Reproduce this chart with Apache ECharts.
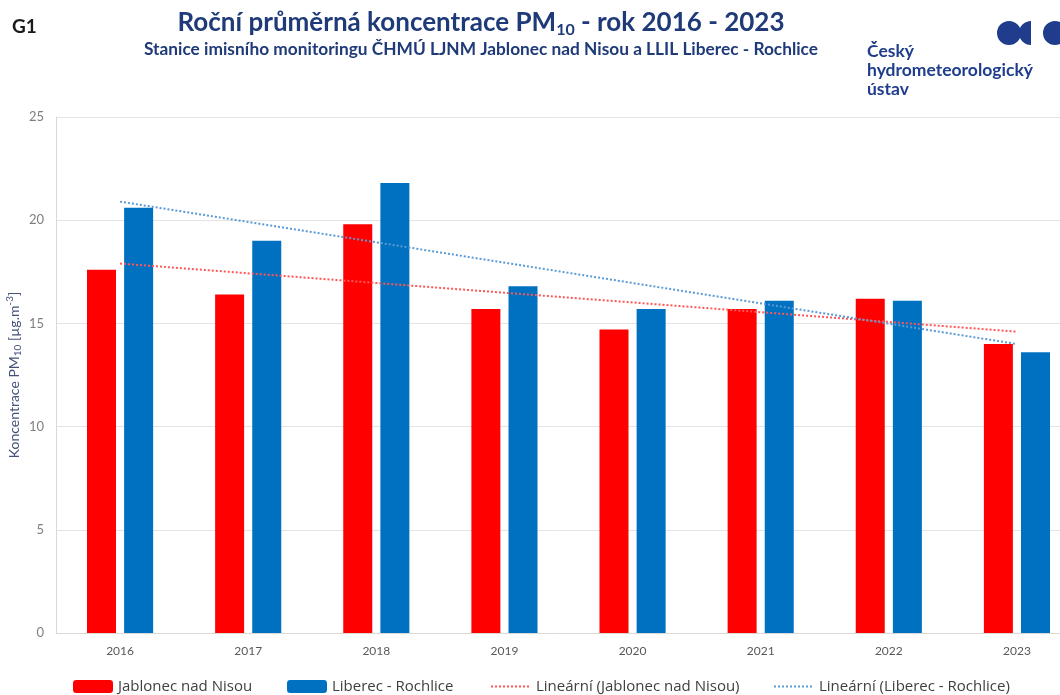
<!DOCTYPE html>
<html>
<head>
<meta charset="utf-8">
<script src="https://cdn.jsdelivr.net/npm/echarts@6/dist/echarts.min.js"></script>
<style>
  html, body { margin: 0; padding: 0; background: #fff; }
  #chart { width: 1060px; height: 695px; }
</style>
</head>
<body>
<div id="chart"></div>
<script>
// roky
const years = ['2016', '2017', '2018', '2019', '2020', '2021', '2022', '2023']
// roční průměry PM10 [µg.m-3]
const jablonec = [17.6, 16.4, 19.8, 15.7, 14.7, 15.7, 16.2, 14.0]
const liberec = [20.6, 19.0, 21.8, 16.8, 15.7, 16.1, 16.1, 13.6]
// lineární trend - hodnoty na začátku a konci
const trendJablonecEnds = [17.9, 14.6]
const trendLiberecEnds = [20.9, 14.0]
const yTicks = [0, 5, 10, 15, 20, 25]

const names = ['Jablonec nad Nisou', 'Liberec - Rochlice', 'Lineární (Jablonec nad Nisou)', 'Lineární (Liberec - Rochlice)']
const NAVY = '#1f3a78'
const FONT = 'Lato, "Open Sans", sans-serif'

function trendData (ends) {
  return years.map((y, i) => i === 0 ? ends[0] : (i === years.length - 1 ? ends[1] : null))
}

let chart = echarts.init(document.getElementById('chart'))

// legenda - každá položka zvlášť kvůli pozici
const legendLeft = [73, 287, 490, 773]
const legends = names.map((n, i) => ({
  data: [n],
  left: legendLeft[i],
  top: 679,
  padding: 0,
  itemWidth: 40,
  itemHeight: 13,
  itemGap: 6,
  itemStyle: i > 1 ? { opacity: 0 } : {},
  textStyle: { color: '#404040', fontSize: 15, fontFamily: '"Liberation Sans Narrow", "Open Sans", sans-serif' }
}))

let option = {
  animation: false,
  textStyle: { fontFamily: FONT },
  grid: { left: 56, right: -21, top: 117, bottom: 62, outerBoundsMode: 'none', containLabel: false },
  legend: legends,
  xAxis: {
    type: 'category',
    data: years,
    axisLine: { lineStyle: { color: '#d9d9d9' } },
    axisTick: { show: false },
    axisLabel: { color: '#595959', fontSize: 12, margin: 12 }
  },
  yAxis: {
    type: 'value',
    min: yTicks[0],
    max: yTicks[yTicks.length - 1],
    interval: 5,
    axisLine: { show: true, lineStyle: { color: '#d9d9d9' } },
    axisTick: { show: false },
    axisLabel: { color: '#7f7f7f', fontSize: 13, margin: 12 },
    splitLine: { lineStyle: { color: '#e4e4e4' } },
    name: '{t|Koncentrace PM}{sub|10}{t| [µg.m}{sup|-3}{t|]}',
    nameLocation: 'middle',
    nameRotate: 90,
    nameGap: 33,
    nameMoveOverlap: false,
    nameTextStyle: {
      rich: {
        t: { color: '#44517a', fontSize: 14, fontFamily: FONT, lineHeight: 18, verticalAlign: 'middle' },
        sub: { color: '#44517a', fontSize: 10, fontFamily: FONT, verticalAlign: 'bottom', lineHeight: 18, padding: [6, 0, 0, 0] },
        sup: { color: '#44517a', fontSize: 10, fontFamily: FONT, verticalAlign: 'top', lineHeight: 18, padding: [0, 0, 6, 0] }
      }
    }
  },
  series: [
    {
      name: names[0],
      type: 'bar',
      data: jablonec,
      barWidth: 29,
      barGap: '28%',
      itemStyle: { color: '#ff0000' }
    },
    {
      name: names[1],
      type: 'bar',
      data: liberec,
      barWidth: 29,
      barGap: '28%',
      itemStyle: { color: '#0070c0' }
    },
    {
      name: names[2],
      type: 'line',
      data: trendData(trendJablonecEnds),
      connectNulls: true,
      symbol: 'none',
      lineStyle: { color: '#ff5757', width: 2, type: [2, 2] },
      itemStyle: { color: '#ff5757' },
      z: 5
    },
    {
      name: names[3],
      type: 'line',
      data: trendData(trendLiberecEnds),
      connectNulls: true,
      symbol: 'none',
      lineStyle: { color: '#5b9bd5', width: 2, type: [2, 2] },
      itemStyle: { color: '#5b9bd5' },
      z: 5
    }
  ],
  graphic: [
    {
      type: 'text', left: 12, top: 17,
      style: { text: 'G1', font: 'bold 19px ' + FONT, fill: '#1a1a1a' }
    },
    {
      type: 'text', x: 481, y: 8,
      style: {
        text: '{a|Roční průměrná koncentrace PM}{s|10}{a| - rok 2016 - 2023}',
        textAlign: 'center',
        rich: {
          a: { font: 'bold 26px ' + FONT, fill: NAVY, lineHeight: 30 },
          s: { font: 'bold 16px ' + FONT, fill: NAVY, lineHeight: 30, verticalAlign: 'bottom', padding: [10, 0, 0, 0] }
        }
      }
    },
    {
      type: 'text', x: 481, y: 41,
      style: {
        text: 'Stanice imisního monitoringu ČHMÚ LJNM Jablonec nad Nisou a LLIL Liberec - Rochlice',
        textAlign: 'center',
        font: 'bold 17.3px ' + FONT,
        fill: NAVY
      }
    },
    // logo ČHMÚ
    { type: 'circle', shape: { cx: 1009, cy: 33, r: 12 }, style: { fill: '#1f3d8c' } },
    { type: 'sector', shape: { cx: 1031, cy: 33, r: 12, startAngle: Math.PI / 2, endAngle: Math.PI * 3 / 2 }, style: { fill: '#1f3d8c' } },
    { type: 'circle', shape: { cx: 1055, cy: 33, r: 12 }, style: { fill: '#1f3d8c' } },
    {
      type: 'text', x: 867, y: 42,
      style: {
        text: 'Český\nhydrometeorologický\nústav',
        font: 'bold 17.5px ' + FONT,
        lineHeight: 19,
        fill: '#1f3d8c'
      }
    }
  ]
}

chart.setOption(option)
</script>
</body>
</html>
